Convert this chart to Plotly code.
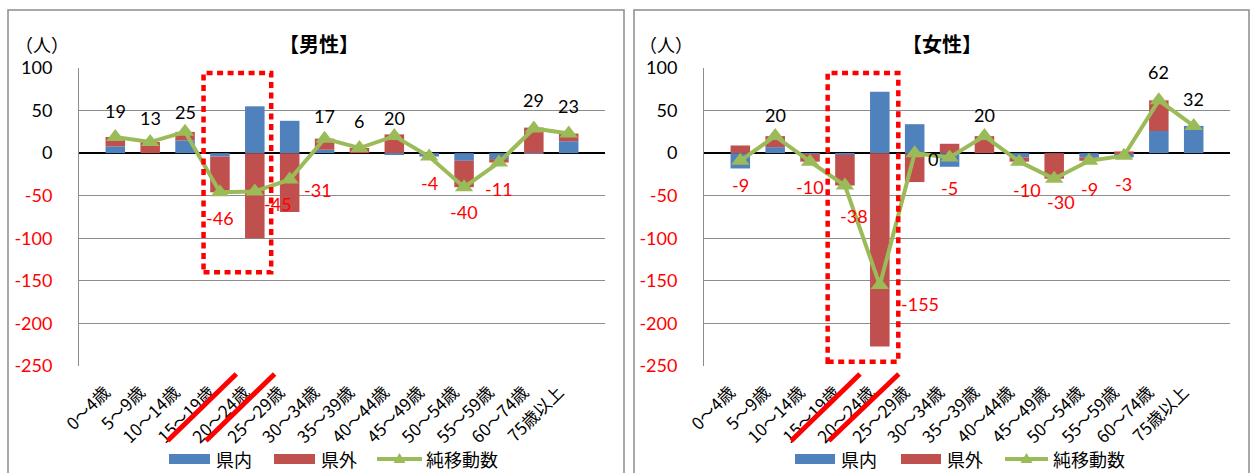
import plotly.graph_objects as go

# ---------------- data ----------------
categories = ["0～4歳", "5～9歳", "10～14歳", "15～19歳", "20～24歳", "25～29歳", "30～34歳",
              "35～39歳", "40～44歳", "45～49歳", "50～54歳", "55～59歳", "60～74歳", "75歳以上"]

male_in = [8, 0, 15, -4, 55, 38, 4, 0, -2, -4, -9, -7, -1, 14]
male_out = [11, 13, 10, -42, -100, -69, 13, 6, 22, 0, -31, -4, 30, 9]
male_net = [19, 13, 25, -46, -45, -31, 17, 6, 20, -4, -40, -11, 29, 23]

female_in = [-18, 7, -1, -2, 72, 34, -16, 0, -5, 0, -5, -5, 26, 32]
female_out = [9, 13, -9, -36, -227, -34, 11, 20, -5, -30, -4, 2, 36, 0]
female_net = [-9, 20, -10, -38, -155, 0, -5, 20, -10, -30, -9, -3, 62, 32]

y_ticks = [100, 50, 0, -50, -100, -150, -200, -250]

series_names = ["県内", "県外", "純移動数"]
titles = ["【男性】", "【女性】"]
unit_label = "（人）"

# ---------------- styles ----------------
W, H = 1254, 473
BLUE = "#4F81BD"
RED = "#C0504D"
GREEN = "#9BBB59"
GRID = "#8C8C8C"
FONT = "Lato, 'Noto Sans CJK JP', sans-serif"
CJK = "'Noto Sans CJK JP', sans-serif"

male_label_shift = [(0, 26), (0, 24), (0, 20), (0, -26), (23, -13), (28, -10), (0, 23),
                    (0, 27), (0, 18), (0, -26), (0, -25), (0, -26), (0, 28), (0, 28)]
female_label_shift = [(0, -24), (0, 21), (0, -25), (9, -30), (40, -19), (18, -6), (0, -31),
                      (0, 21), (8, -28), (7, -23), (0, -28), (0, -28), (0, 28), (0, 27)]


def px(x):
    return x / W


def py(y):
    return 1 - y / H


fig = go.Figure()

panels = [
    dict(xa="x", ya="y", inn=male_in, out=male_out, net=male_net, shift=male_label_shift,
         border=(8, 624), title=titles[0], title_x=319, unit_x=42,
         rect=(2.53, 4.47, -140, 94),
         slashes=[((167.6, 440.7), (236.3, 374)), ((206, 440.7), (274.6, 374))],
         legend=dict(b=(169, 210), bt=214, r=(274, 315), rt=319, l=(377, 422), lt=424)),
    dict(xa="x2", ya="y2", inn=female_in, out=female_out, net=female_net, shift=female_label_shift,
         border=(634, 1249), title=titles[1], title_x=942, unit_x=666,
         rect=(2.505, 4.53, -245, 94),
         slashes=[((791.2, 440.7), (860, 374)), ((828.8, 440.7), (898.8, 374))],
         legend=dict(b=(795, 835), bt=839, r=(901, 941), rt=945, l=(1005, 1048), lt=1051)),
]

annotations = []
shapes = []

tick_text = []
for v in y_ticks:
    c = "black" if v >= 0 else "#FF0000"
    tick_text.append(f"<span style='color:{c}'>{v}</span>")

for p in panels:
    xa, ya = p["xa"], p["ya"]
    fig.add_trace(go.Bar(x=categories, y=p["inn"], name=series_names[0], marker=dict(color=BLUE, line=dict(width=0)),
                         xaxis=xa, yaxis=ya, showlegend=False))
    fig.add_trace(go.Bar(x=categories, y=p["out"], name=series_names[1], marker=dict(color=RED, line=dict(width=0)),
                         xaxis=xa, yaxis=ya, showlegend=False))
    fig.add_trace(go.Scatter(x=categories, y=p["net"], name=series_names[2], mode="lines+markers",
                             line=dict(color=GREEN, width=4),
                             marker=dict(symbol="triangle-up", size=16, color=GREEN),
                             xaxis=xa, yaxis=ya, showlegend=False))
    # data labels
    for i, v in enumerate(p["net"]):
        dx, dy = p["shift"][i]
        annotations.append(dict(x=categories[i], y=v, xref=xa, yref=ya, text=str(v), showarrow=False,
                                xanchor="center", yanchor="middle",
                                xshift=dx, yshift=dy, font=dict(family=FONT, size=18,
                                                                 color="black" if v >= 0 else "#FF0000")))
    # title and unit
    annotations.append(dict(x=px(p["title_x"]), y=py(43), xref="paper", yref="paper", text=f"<b>{p['title']}</b>",
                            xanchor="center", yanchor="middle",
                            showarrow=False, font=dict(family=CJK, size=20, color="black")))
    annotations.append(dict(x=px(p["unit_x"]), y=py(44), xref="paper", yref="paper", text=unit_label,
                            xanchor="center", yanchor="middle",
                            showarrow=False, font=dict(family=CJK, size=18, color="black")))
    # panel border
    shapes.append(dict(type="rect", xref="paper", yref="paper", x0=px(p["border"][0]), x1=px(p["border"][1]),
                       y0=-0.1, y1=py(10), line=dict(color="#8C8C8C", width=1.5), layer="below"))
    # red dotted highlight
    rx0, rx1, ry0, ry1 = p["rect"]
    shapes.append(dict(type="rect", xref=xa, yref=ya, x0=rx0, x1=rx1, y0=ry0, y1=ry1,
                       line=dict(color="#FF0000", width=4.5, dash="6px,4.5px"), layer="above"))
    # red slashes over tick labels
    for (a, b) in p["slashes"]:
        shapes.append(dict(type="line", xref="paper", yref="paper", x0=px(a[0]), y0=py(a[1]),
                           x1=px(b[0]), y1=py(b[1]), line=dict(color="#FF0000", width=5)))
    # custom legend
    lg = p["legend"]
    ly = 459
    shapes.append(dict(type="rect", xref="paper", yref="paper", x0=px(lg["b"][0]), x1=px(lg["b"][1]),
                       y0=py(464), y1=py(454), fillcolor=BLUE, line=dict(width=0)))
    shapes.append(dict(type="rect", xref="paper", yref="paper", x0=px(lg["r"][0]), x1=px(lg["r"][1]),
                       y0=py(464), y1=py(454), fillcolor=RED, line=dict(width=0)))
    shapes.append(dict(type="line", xref="paper", yref="paper", x0=px(lg["l"][0]), x1=px(lg["l"][1]),
                       y0=py(ly), y1=py(ly), line=dict(color=GREEN, width=4)))
    cx = (lg["l"][0] + lg["l"][1]) / 2
    tri = f"M {px(cx - 6)},{py(ly + 4)} L {px(cx + 6)},{py(ly + 4)} L {px(cx)},{py(ly - 6)} Z"
    shapes.append(dict(type="path", xref="paper", yref="paper", path=tri, fillcolor=GREEN, line=dict(width=0)))
    for tx, txt in [(lg["bt"], series_names[0]), (lg["rt"], series_names[1]), (lg["lt"], series_names[2])]:
        annotations.append(dict(x=px(tx), y=py(ly), xref="paper", yref="paper", text=txt, showarrow=False,
                                xanchor="left", yanchor="middle", font=dict(family=CJK, size=18, color="black")))

axis_common_x = dict(type="category", tickangle=-45, tickfont=dict(family=CJK, size=17, color="black"),
                     showgrid=False, showline=False, ticks="", zeroline=False, automargin=False,
                     ticklabelstandoff=12, ticklabelshift=-10)
axis_common_y = dict(range=[-250, 100], tickvals=y_ticks, ticktext=tick_text, showgrid=True, gridcolor=GRID,
                     gridwidth=1, zeroline=True, zerolinecolor="black", zerolinewidth=2,
                     showline=True, linecolor=GRID, linewidth=1, ticks="", ticklabelstandoff=22,
                     automargin=False, tickfont=dict(family=FONT, size=18, color="black"))

fig.update_layout(
    width=W, height=H, margin=dict(l=0, r=0, t=0, b=0, pad=0, autoexpand=False),
    paper_bgcolor="white", plot_bgcolor="white",
    barmode="relative", bargap=0.44, showlegend=False,
    font=dict(family=FONT),
    xaxis=dict(domain=[px(79), px(605)], anchor="y", **axis_common_x),
    yaxis=dict(domain=[py(366), py(68)], anchor="x", **axis_common_y),
    xaxis2=dict(domain=[px(704), px(1230)], anchor="y2", **axis_common_x),
    yaxis2=dict(domain=[py(366), py(68)], anchor="x2", **axis_common_y),
    annotations=annotations, shapes=shapes,
)

fig.write_html("out.html")
